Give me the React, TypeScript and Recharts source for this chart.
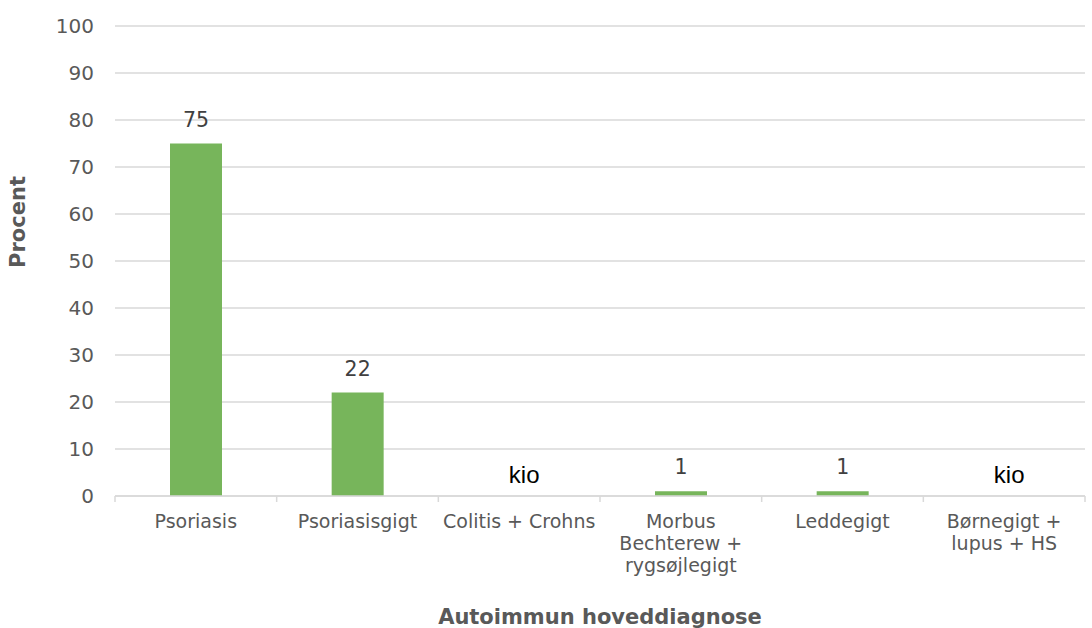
import React from "react";
import { BarChart, Bar, XAxis, YAxis, CartesianGrid, LabelList } from "recharts";

const categories = [
  "Psoriasis",
  "Psoriasisgigt",
  "Colitis + Crohns",
  "Morbus\nBechterew +\nrygsøjlegigt",
  "Leddegigt",
  "Børnegigt +\nlupus + HS",
];
// null = kio (for få observationer)
const percent: (number | null)[] = [75, 22, null, 1, 1, null];
const yTicks = [0, 10, 20, 30, 40, 50, 60, 70, 80, 90, 100];

const chartData = categories.map((name, i) => ({
  name,
  value: percent[i],
}));

const FONT = "'DejaVu Sans', Verdana, sans-serif";
const GRID = "#d9d9d9";
const MUTED = "#595959";
const X_TICK_MARGIN = 32;

// category label + boundary tick marks; "kio" is written just above the axis
function CategoryTick(props: any) {
  const { x, y, payload, index, visibleTicksCount } = props;
  const axisY = y - X_TICK_MARGIN;
  const half = payload.offset ?? 0;
  const lines = String(payload.value).split("\n");
  const isLast = index === visibleTicksCount - 1;
  const kio = percent[index] === null;
  return (
    <g>
      <line x1={x - half} x2={x - half} y1={axisY} y2={axisY + 6} stroke={GRID} strokeWidth={1.5} />
      {isLast && (
        <line x1={x + half} x2={x + half} y1={axisY} y2={axisY + 6} stroke={GRID} strokeWidth={1.5} />
      )}
      <text x={x} y={y} textAnchor="middle" fill={MUTED} fontFamily={FONT} fontSize={19}>
        {lines.map((line, i) => (
          <tspan key={i} x={x} dy={i === 0 ? 0 : 22}>
            {line}
          </tspan>
        ))}
      </text>
      {kio && (
        <text
          x={x + 5}
          y={axisY - 13}
          textAnchor="middle"
          fill="#000000"
          fontFamily="'Liberation Sans', Arial, sans-serif"
          fontSize={24}
        >
          kio
        </text>
      )}
    </g>
  );
}

function BarLabel(props: any) {
  const { x, y, width, value } = props;
  if (value === null || value === undefined) return null;
  return (
    <text x={x + width / 2} y={y - 17} textAnchor="middle" fill="#404040" fontFamily={FONT} fontSize={20.5}>
      {value}
    </text>
  );
}

function YTitle(props: any) {
  const { viewBox } = props;
  const cx = 18;
  const cy = viewBox.y + viewBox.height / 2 - 39;
  return (
    <text
      x={cx}
      y={cy}
      transform={`rotate(-90, ${cx}, ${cy})`}
      textAnchor="middle"
      dominantBaseline="central"
      fill={MUTED}
      fontFamily={FONT}
      fontWeight="bold"
      fontSize={21}
    >
      Procent
    </text>
  );
}

function XTitle(props: any) {
  const { viewBox } = props;
  return (
    <text
      x={viewBox.x + viewBox.width / 2}
      y={viewBox.y + viewBox.height - 4}
      textAnchor="middle"
      fill={MUTED}
      fontFamily={FONT}
      fontWeight="bold"
      fontSize={21}
    >
      Autoimmun hoveddiagnose
    </text>
  );
}

export default function App() {
  return (
    <div style={{ position: "absolute", left: 0, top: 0, background: "#ffffff" }}>
      <BarChart
        width={1092}
        height={628}
        data={chartData}
        margin={{ top: 26, right: 7, bottom: 0, left: 0 }}
        barCategoryGap={0}
      >
        <CartesianGrid vertical={false} stroke={GRID} strokeWidth={1.5} />
        <XAxis
          dataKey="name"
          height={132}
          axisLine={{ stroke: GRID, strokeWidth: 1.5 }}
          tickLine={false}
          tickSize={0}
          tickMargin={X_TICK_MARGIN}
          interval={0}
          tick={<CategoryTick />}
          label={<XTitle />}
        />
        <YAxis
          width={115}
          domain={[0, 100]}
          ticks={yTicks}
          axisLine={false}
          tickLine={false}
          tickSize={0}
          tickMargin={21}
          tick={{ fill: MUTED, fontFamily: FONT, fontSize: 20 }}
          label={<YTitle />}
        />
        <Bar dataKey="value" fill="#77b55b" barSize={52} isAnimationActive={false}>
          <LabelList dataKey="value" content={<BarLabel />} />
        </Bar>
      </BarChart>
    </div>
  );
}
